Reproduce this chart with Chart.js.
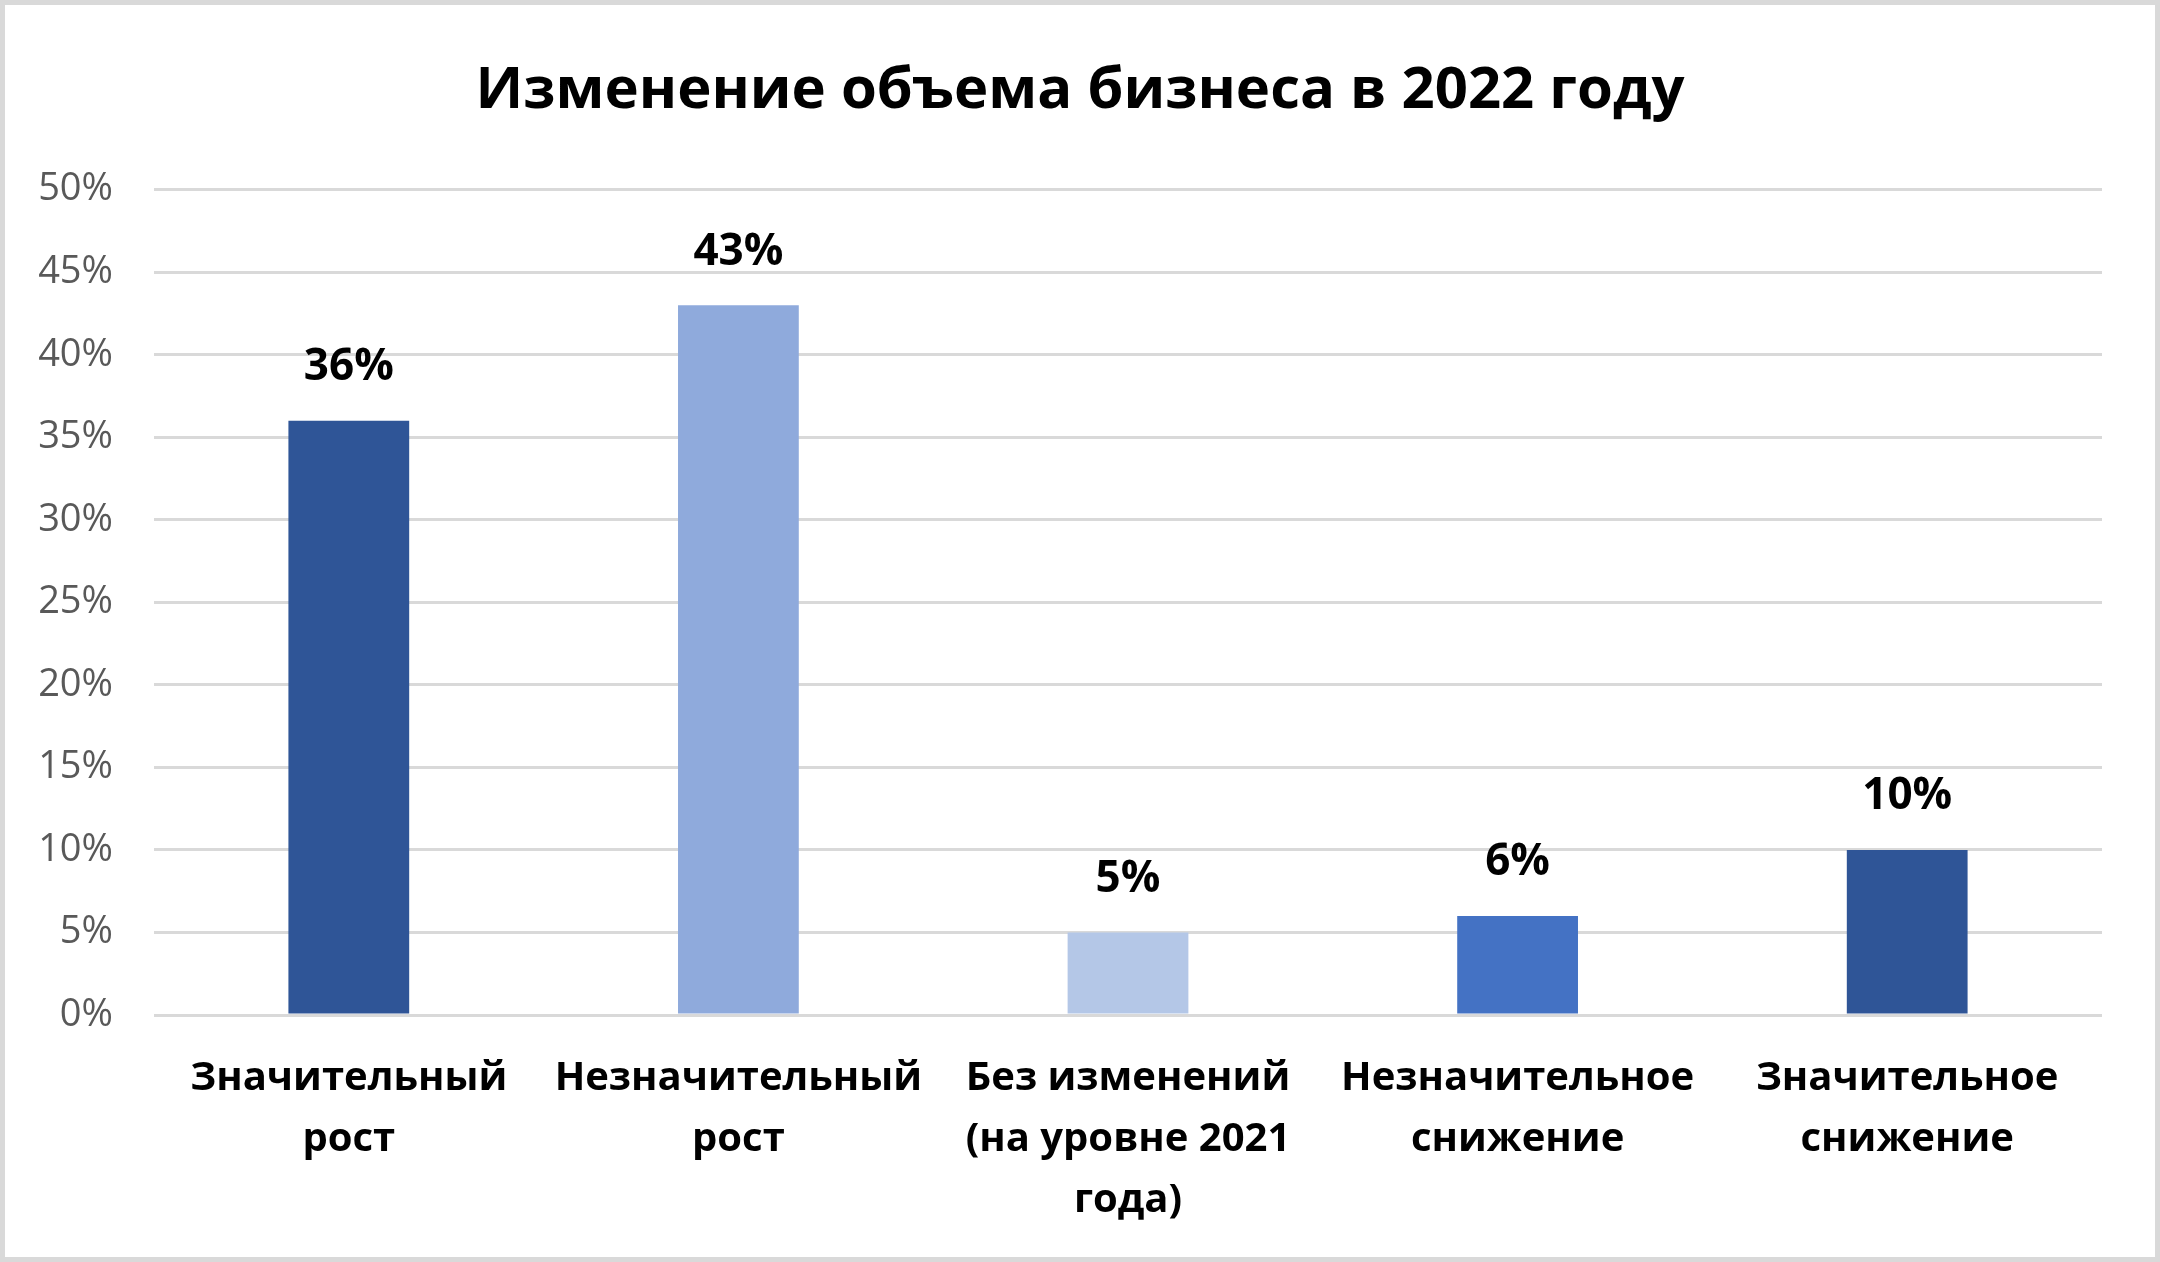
<!DOCTYPE html>
<html>
<head>
<meta charset="utf-8">
<script src="https://cdn.jsdelivr.net/npm/chart.js@4"></script>
<style>
  html, body { margin: 0; padding: 0; background: #fff; }
  #wrap { width: 2160px; height: 1262px; box-sizing: border-box; border: 5px solid #d9d9d9; }
  canvas { display: block; }
</style>
</head>
<body>
<div id="wrap"><canvas id="chart" width="2150" height="1252"></canvas></div>
<script>
// --- данные графика ---
const categories = [
  ["Значительный", "рост"],
  ["Незначительный", "рост"],
  ["Без изменений", "(на уровне 2021", "года)"],
  ["Незначительное", "снижение"],
  ["Значительное", "снижение"]
];
const shares = [36, 43, 5, 6, 10];
const barColors = ["#2f5597", "#8faadc", "#b4c7e7", "#4472c4", "#2f5597"];
const yMin = 0, yMax = 50, yStep = 5;

const FONT = "'Open Sans', 'Noto Sans', sans-serif";

// подписи значений над столбцами
const valueLabels = {
  id: "valueLabels",
  afterDatasetsDraw(chart) {
    const ctx = chart.ctx;
    const meta = chart.getDatasetMeta(0);
    ctx.save();
    ctx.font = "bold 44px " + FONT;
    ctx.fillStyle = "#000";
    ctx.textAlign = "center";
    ctx.textBaseline = "middle";
    meta.data.forEach((bar, i) => {
      ctx.fillText(shares[i] + "%", bar.x, bar.y - 53);
    });
    ctx.restore();
  }
};

new Chart(document.getElementById("chart"), {
  type: "bar",
  data: {
    labels: categories,
    datasets: [{
      data: shares,
      backgroundColor: barColors,
      borderWidth: 0,
      barPercentage: 0.31,
      categoryPercentage: 1
    }]
  },
  options: {
    responsive: false,
    animation: false,
    layout: { padding: 0 },
    plugins: {
      legend: { display: false },
      tooltip: { enabled: false },
      title: {
        display: true,
        text: "Изменение объема бизнеса в 2022 году",
        color: "#000",
        font: { family: FONT, size: 58, weight: "bold", lineHeight: 1.2 },
        padding: { top: 52, bottom: 63 }
      }
    },
    scales: {
      x: {
        grid: { display: false, drawTicks: false },
        border: { display: false },
        ticks: {
          color: "#000",
          font: { family: FONT, size: 40, weight: "bold", lineHeight: 1.525 },
          padding: 33,
          maxRotation: 0,
          autoSkip: false
        },
        afterFit(s) { s.height = 242; }
      },
      y: {
        min: yMin,
        max: yMax,
        grid: { color: "#d9d9d9", lineWidth: 3, drawTicks: false },
        border: { display: false },
        ticks: {
          stepSize: yStep,
          color: "#595959",
          font: { family: FONT, size: 38 },
          padding: 41,
          callback: v => v + "%"
        },
        afterFit(s) { s.width = 149; }
      },
      // пустое место справа от области графика, чтобы заголовок остался по центру
      yRight: {
        type: "linear",
        position: "right",
        min: yMin,
        max: yMax,
        grid: { display: false, drawTicks: false },
        border: { display: false },
        ticks: { display: false },
        afterFit(s) { s.width = 53; }
      }
    }
  },
  plugins: [valueLabels]
});
</script>
</body>
</html>
